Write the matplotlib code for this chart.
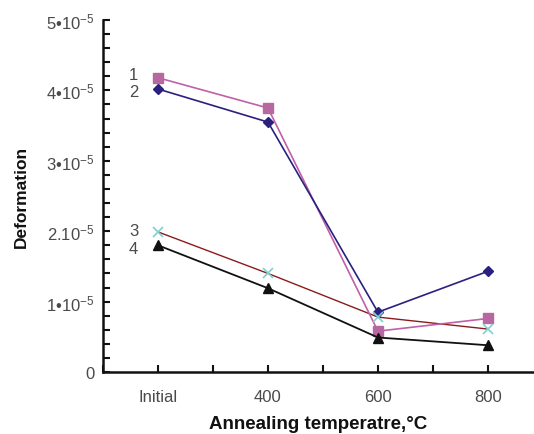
import matplotlib
matplotlib.use("Agg")
import matplotlib.pyplot as plt
from matplotlib.ticker import MultipleLocator

plt.rcParams['font.family'] = ['Liberation Sans', 'DejaVu Sans']
plt.rcParams['mathtext.fontset'] = 'custom'
plt.rcParams['mathtext.rm'] = 'Liberation Sans'
plt.rcParams['mathtext.it'] = 'Liberation Sans'
plt.rcParams['mathtext.default'] = 'regular'

categories = ["Initial", "400", "600", "800"]
series_labels = ["1", "2", "3", "4"]
s1 = [4.18, 3.75, 0.58, 0.76]   # pink squares (x1e-5)
s2 = [4.02, 3.55, 0.85, 1.43]   # navy diamonds
s3 = [1.99, 1.40, 0.78, 0.61]   # cyan x, brown line
s4 = [1.80, 1.19, 0.49, 0.38]   # black triangles
ytick_vals = [0, 1, 2, 3, 4, 5]
ytick_labels = ["0", "1•10$^{-5}$", "2.10$^{-5}$", "3•10$^{-5}$", "4•10$^{-5}$", "5•10$^{-5}$"]

fig = plt.figure(figsize=(5.34, 4.35), dpi=100)
ax = fig.add_axes([103/534, 1 - 373/435, (533-103)/534, (373-21)/435])

x = list(range(len(categories)))
gray = "#4a4a4a"

ax.plot(x, s3, color="#8b1a1a", lw=1.0, zorder=2)
ax.plot(x, s3, ls="none", marker="x", ms=7, mew=1.2, color="#7fcfd0", zorder=5)
ax.plot(x, s1, color="#c060a8", lw=1.2, marker="s", ms=7, mfc="#b868a0", mec="#b868a0", zorder=3)
ax.plot(x, s2, color="#2a2080", lw=1.2, marker="D", ms=5.5, mfc="#2a2080", mec="#2a2080", zorder=4)
ax.plot(x, s4, color="#111111", lw=1.3, marker="^", ms=7, zorder=4)

for lab, s, dy in zip(series_labels, [s1, s2, s3, s4], [0.05, -0.03, 0.02, -0.05]):
    ax.text(-0.18, s[0] + dy, lab, ha="right", va="center", fontsize=12, color=gray)

ax.set_xlim(-0.5, 3.41)
ax.set_ylim(0, 5)
ax.set_xticks(x)
ax.set_xticklabels(categories)
ax.xaxis.set_minor_locator(MultipleLocator(0.5))
ax.set_yticks(ytick_vals)
ax.set_yticklabels(ytick_labels)
ax.yaxis.set_minor_locator(MultipleLocator(0.2))

for sp in ["top", "right"]:
    ax.spines[sp].set_visible(False)
for sp in ["left", "bottom"]:
    ax.spines[sp].set_linewidth(1.8)
    ax.spines[sp].set_color("#111111")

ax.tick_params(axis="both", which="both", direction="in", width=1.5, color="#111111")
ax.tick_params(axis="both", which="major", length=5, labelsize=12, labelcolor=gray)
ax.tick_params(axis="both", which="minor", length=5)
ax.tick_params(axis="x", pad=12)
ax.tick_params(axis="y", pad=6)

ax.set_xlabel("Annealing temperatre,°C", fontsize=13.5, fontweight="bold", color="#111111", labelpad=8)
ax.set_ylabel("Deformation", fontsize=12.5, fontweight="bold", color="#111111")
ax.yaxis.set_label_coords(-0.172, 0.5)

fig.savefig("out.png", dpi=100)
